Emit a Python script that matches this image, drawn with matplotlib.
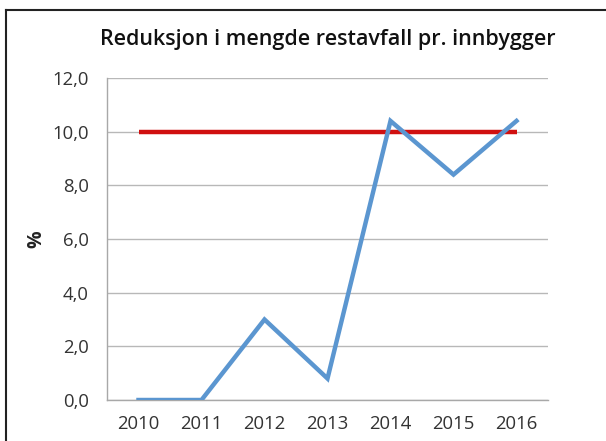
import matplotlib
matplotlib.use("Agg")
import matplotlib.pyplot as plt
from matplotlib.lines import Line2D

years = ["2010", "2011", "2012", "2013", "2014", "2015", "2016"]
reduction = [0.0, 0.0, 3.0, 0.8, 10.4, 8.4, 10.4]
target = [10.0] * len(years)
yticks = [0, 2, 4, 6, 8, 10, 12]
ytick_labels = ["0,0", "2,0", "4,0", "6,0", "8,0", "10,0", "12,0"]

plt.rcParams['font.family'] = ['Open Sans', 'DejaVu Sans']

fig = plt.figure(figsize=(6.06, 4.41), dpi=100)
ax = fig.add_axes([107/606, 1 - 400/441, 441/606, 322/441])

x = list(range(len(years)))
ax.plot(x, target, color="#d01010", lw=3.2, solid_capstyle="butt", zorder=3)
ax.plot(x, reduction, color="#5b96d0", lw=3.2, solid_joinstyle="miter", zorder=4)

ax.set_xlim(-0.5, len(years) - 0.5)
ax.set_ylim(0, 12)
ax.set_yticks(yticks)
ax.set_yticklabels(ytick_labels)
ax.set_xticks(x)
ax.set_xticklabels(years)
ax.tick_params(axis="both", length=0, labelsize=13.3, colors="#333333")
ax.tick_params(axis="y", pad=13)
ax.tick_params(axis="x", pad=11)
ax.grid(axis="y", color="#b8b8b8", lw=1.0)
ax.set_axisbelow(True)
for s in ["top", "right"]:
    ax.spines[s].set_visible(False)
for s in ["left", "bottom"]:
    ax.spines[s].set_color("#a8a8a8")
    ax.spines[s].set_linewidth(1.0)

ax.set_ylabel("%", fontsize=14, fontweight="bold", color="#222222", labelpad=4)
fig.text(328/606, 1 - 40/441, "Reduksjon i mengde restavfall pr. innbygger",
         ha="center", va="center", fontsize=15.5, fontweight="semibold", color="#111111")

fig.add_artist(Line2D([6/606, 6/606], [0, 1 - 10/441], transform=fig.transFigure, color="#222222", lw=1.5))
fig.add_artist(Line2D([6/606, 1], [1 - 10/441, 1 - 10/441], transform=fig.transFigure, color="#222222", lw=1.5))

fig.savefig("out.png", dpi=100)
